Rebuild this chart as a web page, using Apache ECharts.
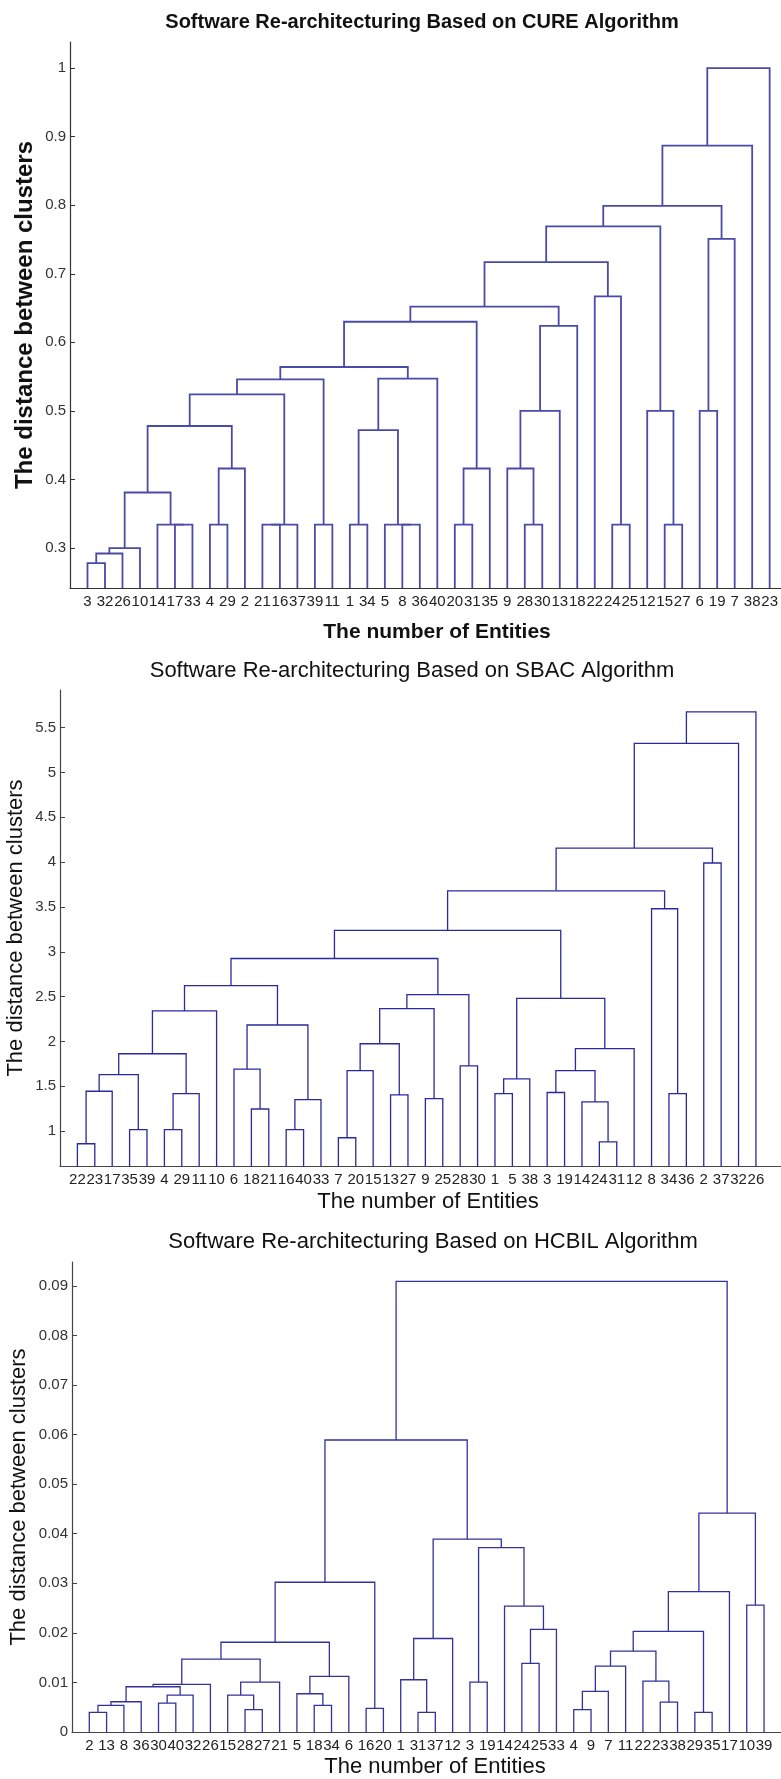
<!DOCTYPE html>
<html>
<head>
<meta charset="utf-8">
<title>Software Re-architecturing dendrograms</title>
<script src="https://cdn.jsdelivr.net/npm/echarts@6/dist/echarts.min.js"></script>
<style>
html, body { margin: 0; padding: 0; background: #fff; }
#chart { width: 781px; height: 1779px; }
</style>
</head>
<body>
<div id="chart"></div>
<script>
// leaf labels, left to right along the x axis
var cureLabels = ['3','32','26','10','14','17','33','4','29','2','21','16','37','39','11','1','34','5','8','36',
	'40','20','31','35','9','28','30','13','18','22','24','25','12','15','27','6','19','7','38','23'];
// merges: 1..40 = leaf position, 40+k = k-th merge (matlab linkage style)
var cureLinks = [[1,2],[41,3],[42,4],[6,7],[5,44],[43,45],[8,9],[47,10],[46,48],[11,12],
	[50,13],[49,51],[14,15],[52,53],[16,17],[19,20],[18,56],[55,57],[58,21],[54,59],
	[22,23],[61,24],[60,62],[26,27],[25,64],[65,28],[66,29],[63,67],[31,32],[30,69],
	[68,70],[34,35],[33,72],[71,73],[36,37],[75,38],[74,76],[77,39],[78,40]];
var cureHeights = [0.278,0.292,0.300,0.334,0.334,0.381,0.334,0.416,0.478,0.334,
	0.334,0.524,0.334,0.546,0.334,0.334,0.334,0.472,0.547,0.564,
	0.334,0.416,0.630,0.334,0.416,0.500,0.624,0.652,0.334,0.667,
	0.717,0.334,0.500,0.769,0.500,0.751,0.799,0.887,1.000];
var cureTicks = [0.3,0.4,0.5,0.6,0.7,0.8,0.9,1];

var sbacLabels = ['22','23','17','35','39','4','29','11','10','6','18','21','16','40','33','7','20','15','13','27',
	'9','25','28','30','1','5','38','3','19','14','24','31','12','8','34','36','2','37','32','26'];
var sbacLinks = [[1,2],[41,3],[4,5],[42,43],[6,7],[45,8],[44,46],[47,9],[11,12],[10,49],
	[13,14],[51,15],[50,52],[48,53],[16,17],[55,18],[19,20],[56,57],[21,22],[58,59],
	[23,24],[60,61],[54,62],[25,26],[64,27],[28,29],[31,32],[30,67],[66,68],[69,33],
	[65,70],[63,71],[35,36],[34,73],[72,74],[37,38],[75,76],[77,39],[78,40]];
var sbacHeights = [0.858,1.444,1.015,1.63,1.015,1.418,1.862,2.34,1.246,1.69,
	1.015,1.351,2.183,2.623,0.925,1.675,1.403,1.974,1.362,2.366,
	1.728,2.522,2.925,1.418,1.582,1.43,0.88,1.325,1.675,1.92,
	2.48,3.239,1.418,3.48,3.68,3.99,4.157,5.325,5.675];
var sbacTicks = [1,1.5,2,2.5,3,3.5,4,4.5,5,5.5];

var hcbilLabels = ['2','13','8','36','30','40','32','26','15','28','27','21','5','18','34','6','16','20','1','31',
	'37','12','3','19','14','24','25','33','4','9','7','11','22','23','38','29','35','17','10','39'];
var hcbilLinks = [[1,2],[41,3],[42,4],[5,6],[44,7],[43,45],[46,8],[10,11],[9,48],[49,12],
	[47,50],[14,15],[13,52],[53,16],[51,54],[17,18],[55,56],[20,21],[19,58],[59,22],
	[23,24],[26,27],[62,28],[25,63],[61,64],[60,65],[57,66],[29,30],[68,31],[69,32],
	[34,35],[33,71],[70,72],[36,37],[73,74],[75,38],[39,40],[76,77],[67,78]];
var hcbilHeights = [0.00396,0.00537,0.0061,0.00584,0.00745,0.00913,0.0096,0.0045,0.00745,0.01007,
	0.0147,0.00537,0.00772,0.0112,0.0181,0.00477,0.0302,0.00396,0.01054,0.01886,
	0.01007,0.01383,0.0207,0.0254,0.0372,0.0389,0.0589,0.0045,0.00819,0.0133,
	0.00604,0.01027,0.0163,0.00396,0.0203,0.0283,0.0256,0.04416,0.0909];
var hcbilTicks = [0,0.01,0.02,0.03,0.04,0.05,0.06,0.07,0.08,0.09];

var FONT = "'Liberation Sans', Arial, sans-serif";

// turn the merge list into [xLeft, xRight, hLeft, hRight, hTop] links
function dendroLinks(links, heights, base) {
	var n = links.length + 1;
	var xs = [], hs = [];
	function pos(id) { return id <= n ? id : xs[id - n - 1]; }
	function hgt(id) { return id <= n ? base : hs[id - n - 1]; }
	var items = [];
	links.forEach(function (pair, k) {
		var xa = pos(pair[0]), xb = pos(pair[1]);
		items.push([xa, xb, hgt(pair[0]), hgt(pair[1]), heights[k]]);
		xs.push((xa + xb) / 2);
		hs.push(heights[k]);
	});
	return items;
}

function leafPositions(labels) {
	return labels.map(function (l, i) { return i + 1; });
}

function linkSeries(idx, items, color, width) {
	return {
		type: 'custom',
		xAxisIndex: idx,
		yAxisIndex: idx,
		data: items,
		encode: { x: [0, 1], y: [2, 3, 4] },
		silent: true,
		renderItem: function (params, api) {
			var p1 = api.coord([api.value(0), api.value(2)]);
			var p2 = api.coord([api.value(0), api.value(4)]);
			var p3 = api.coord([api.value(1), api.value(4)]);
			var p4 = api.coord([api.value(1), api.value(3)]);
			return {
				type: 'polyline',
				shape: { points: [p1, p2, p3, p4] },
				style: { stroke: color, lineWidth: width, fill: 'none' }
			};
		}
	};
}

function xAxisFor(idx, labels, max, axisColor) {
	return {
		type: 'value', gridIndex: idx, min: 0, max: max,
		axisLine: { show: true, lineStyle: { color: axisColor, width: 1.2 } },
		axisTick: { show: false },
		splitLine: { show: false },
		axisLabel: {
			customValues: leafPositions(labels),
			showMinLabel: true,
			showMaxLabel: true,
			hideOverlap: false,
			margin: 6,
			color: '#222',
			fontFamily: FONT,
			fontSize: 15,
			formatter: function (v) { return labels[Math.round(v) - 1]; }
		}
	};
}

function yAxisFor(idx, min, max, ticks, axisColor) {
	return {
		type: 'value', gridIndex: idx, min: min, max: max,
		axisLine: { show: true, lineStyle: { color: axisColor, width: 1.2 } },
		axisTick: { show: true, inside: true, length: 5, customValues: ticks, lineStyle: { color: axisColor } },
		splitLine: { show: false },
		axisLabel: {
			customValues: ticks,
			showMinLabel: true,
			showMaxLabel: true,
			margin: 4,
			color: '#333',
			fontFamily: FONT,
			fontSize: 15,
			formatter: function (v) { return String(+v.toFixed(3)); }
		}
	};
}

function label(text, x, y, size, weight, rotate) {
	return {
		type: 'text', x: x, y: y, rotation: rotate ? Math.PI / 2 : 0,
		style: {
			text: text, fill: '#111',
			font: weight + ' ' + size + 'px ' + FONT,
			textAlign: 'center', textVerticalAlign: 'middle',
			align: 'center', verticalAlign: 'middle'
		}
	};
}

var cureMin = 0.2417, cureMax = 1.038;
var sbacMin = 0.61, sbacMax = 5.92;
var hcbilMin = 0, hcbilMax = 0.0948;

var chart = echarts.init(document.getElementById('chart'));
chart.setOption({
	animation: false,
	backgroundColor: '#fff',
	grid: [
		{ left: 70, top: 42, width: 711, height: 546 },
		{ left: 60, top: 690, width: 721, height: 476 },
		{ left: 72, top: 1262, width: 709, height: 470 }
	],
	xAxis: [
		xAxisFor(0, cureLabels, 40.63, '#333'),
		xAxisFor(1, sbacLabels, 41.44, '#444'),
		xAxisFor(2, hcbilLabels, 40.98, '#444')
	],
	yAxis: [
		yAxisFor(0, cureMin, cureMax, cureTicks, '#333'),
		yAxisFor(1, sbacMin, sbacMax, sbacTicks, '#444'),
		yAxisFor(2, hcbilMin, hcbilMax, hcbilTicks, '#444')
	],
	series: [
		linkSeries(0, dendroLinks(cureLinks, cureHeights, cureMin), '#4a4aa8', 1.8),
		linkSeries(1, dendroLinks(sbacLinks, sbacHeights, sbacMin), '#2a2a9e', 1.3),
		linkSeries(2, dendroLinks(hcbilLinks, hcbilHeights, hcbilMin), '#32329c', 1.3)
	],
	graphic: [
		label('Software Re-architecturing Based on CURE Algorithm', 422, 22, 20, 'bold'),
		label('The number of Entities', 437, 632, 21, 'bold'),
		label('The distance between clusters', 25, 315, 24, 'bold', true),
		label('Software Re-architecturing Based on SBAC Algorithm', 412, 671, 22, 'normal'),
		label('The number of Entities', 428, 1202, 22, 'normal'),
		label('The distance between clusters', 16, 928, 22, 'normal', true),
		label('Software Re-architecturing Based on HCBIL Algorithm', 433, 1242, 22, 'normal'),
		label('The number of Entities', 435, 1767, 22, 'normal'),
		label('The distance between clusters', 19, 1497, 22, 'normal', true)
	]
});
</script>
</body>
</html>
